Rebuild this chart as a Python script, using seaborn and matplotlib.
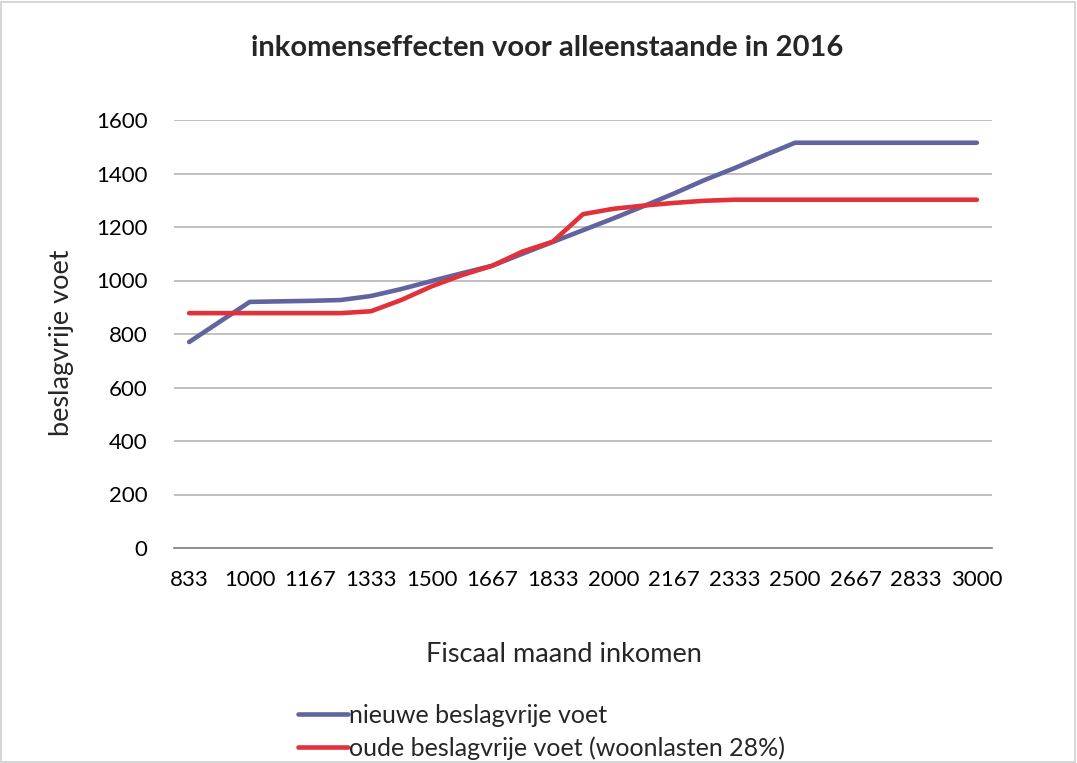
import numpy as np
import pandas as pd
import matplotlib
matplotlib.use("Agg")
import matplotlib.pyplot as plt
import seaborn as sns

# Fiscaal maand inkomen (categories, label every other one)
inkomen = [833, 917, 1000, 1083, 1167, 1250, 1333, 1417, 1500, 1583, 1667, 1750, 1833, 1917,
           2000, 2083, 2167, 2250, 2333, 2417, 2500, 2583, 2667, 2750, 2833, 2917, 3000]

nieuw = [770, 845, 920, 922, 924, 927, 942, 968, 998, 1027, 1055, 1100, 1144, 1188,
         1232, 1278, 1325, 1375, 1420, 1468, 1515, 1515, 1515, 1515, 1515, 1515, 1515]

oud = [878, 878, 878, 878, 878, 878, 885, 927, 978, 1020, 1055, 1108, 1145, 1248,
       1268, 1280, 1290, 1298, 1302, 1302, 1302, 1302, 1302, 1302, 1302, 1302, 1302]

series_names = ["nieuwe beslagvrije voet", "oude beslagvrije voet (woonlasten 28%)"]
colors = ["#6264a0", "#e1313a"]
y_ticks = [0, 200, 400, 600, 800, 1000, 1200, 1400, 1600]

df = pd.DataFrame({
    "pos": list(range(len(inkomen))) * 2,
    "waarde": nieuw + oud,
    "reeks": [series_names[0]] * len(nieuw) + [series_names[1]] * len(oud),
})

sns.set_theme(style="white")
plt.rcParams["font.family"] = ["Lato", "DejaVu Sans"]

fig = plt.figure(figsize=(10.77, 7.63), dpi=100)
ax = fig.add_axes([174 / 1077, 1 - 548 / 763, (992 - 174) / 1077, (548 - 120) / 763])

sns.lineplot(data=df, x="pos", y="waarde", hue="reeks", palette=colors,
             linewidth=3.3, ax=ax, legend=False, solid_capstyle="round")

ax.set_xlim(-0.5, len(inkomen) - 0.5)
ax.set_ylim(0, 1600)
ax.set_yticks(y_ticks)
ax.set_yticklabels([str(v) for v in y_ticks], fontsize=16)
ax.set_xticks(range(0, len(inkomen), 2))
ax.set_xticklabels([str(v) for v in inkomen[::2]], fontsize=16)
ax.tick_params(axis="both", length=0, colors="black")
ax.tick_params(axis="x", pad=16)
ax.tick_params(axis="y", pad=19)

ax.grid(axis="y", color="#b5b5b5", linewidth=1.2)
ax.grid(axis="x", visible=False)
ax.set_axisbelow(True)
for side in ["top", "right", "left"]:
    ax.spines[side].set_visible(False)
ax.spines["bottom"].set_color("#8a8a8a")
ax.spines["bottom"].set_linewidth(1.3)

ax.set_xlabel("")
ax.set_ylabel("")
fig.text(62 / 1077, 1 - 343 / 763, "beslagvrije voet", rotation=90,
         ha="center", va="center", fontsize=19.5)
fig.text(564 / 1077, 1 - 655 / 763, "Fiscaal maand inkomen",
         ha="center", va="center", fontsize=19.5)
fig.text(547 / 1077, 1 - 48 / 763, "inkomenseffecten voor alleenstaande in 2016",
         ha="center", va="center", fontsize=21, fontweight="bold")

handles = [plt.Line2D([], [], color=c, linewidth=3.3, solid_capstyle="round") for c in colors]
fig.legend(handles, series_names, loc="upper left",
           bbox_to_anchor=(288 / 1077, 1 - 694 / 763), frameon=False, fontsize=18,
           handlelength=2.0, handletextpad=0.05, labelspacing=0.38, borderaxespad=0)

fig.patches.append(plt.Rectangle((0.001, 0.001), 0.997, 0.997, transform=fig.transFigure,
                                 fill=False, edgecolor="#d0d0d0", linewidth=1.2))

fig.savefig("out.png", dpi=100)
